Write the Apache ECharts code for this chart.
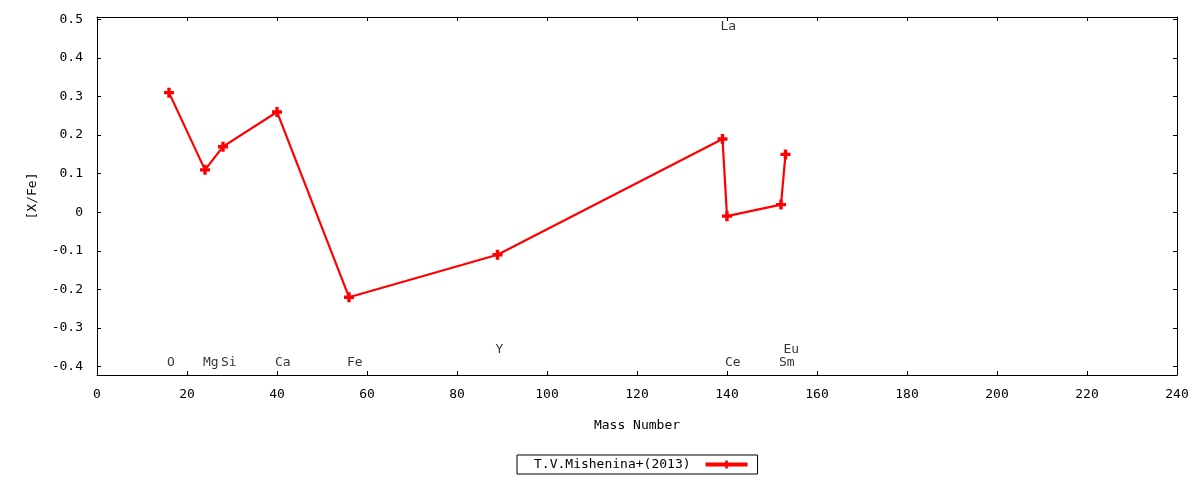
<!DOCTYPE html>
<html>
<head>
<meta charset="utf-8">
<script src="https://cdn.jsdelivr.net/npm/echarts@6/dist/echarts.min.js"></script>
<style>html,body{margin:0;padding:0;background:#fff;}#c{width:1200px;height:480px;}</style>
</head>
<body>
<div id="c"></div>
<script>
// Data
var elements = ['O', 'Mg', 'Si', 'Ca', 'Fe', 'Y', 'La', 'Ce', 'Sm', 'Eu'];
var massNumbers = [16, 24, 28, 40, 56, 89, 139, 140, 152, 153];
var xfeValues = [0.31, 0.11, 0.17, 0.26, -0.22, -0.11, 0.19, -0.01, 0.02, 0.15];
var labelY = [-0.39, -0.39, -0.39, -0.39, -0.39, -0.355, 0.48, -0.39, -0.39, -0.355];
var yTicks = [-0.4, -0.3, -0.2, -0.1, 0, 0.1, 0.2, 0.3, 0.4, 0.5];
var seriesName = 'T.V.Mishenina+(2013)';

var FONT = 'DejaVu Sans Mono';
var plus = 'path://M3.3,0H6.7V3.3H10V6.7H6.7V10H3.3V6.7H0V3.3H3.3Z';

var lineData = massNumbers.map(function (m, i) { return [m, xfeValues[i]]; });
var labelData = massNumbers.map(function (m, i) { return [m, labelY[i], elements[i]]; });

var chart = echarts.init(document.getElementById('c'));
var tickStyle = { show: true, inside: true, length: 4, lineStyle: { color: '#000', width: 1 } };
var lineAx = { show: true, onZero: false, lineStyle: { color: '#000', width: 1 } };
chart.setOption({
  animation: false,
  backgroundColor: '#fff',
  textStyle: { fontFamily: FONT },
  grid: { left: 97, right: 23, top: 17, bottom: 105, containLabel: false },
  xAxis: [{
    type: 'value', min: 0, max: 240, interval: 20, position: 'bottom',
    name: 'Mass Number', nameLocation: 'middle', nameGap: 44,
    nameTextStyle: { fontFamily: FONT, fontSize: 13, color: '#000' },
    axisLine: lineAx, axisTick: tickStyle, splitLine: { show: false },
    axisLabel: { fontFamily: FONT, fontSize: 13, color: '#000', margin: 13 }
  }, {
    type: 'value', min: 0, max: 240, interval: 20, position: 'top',
    axisLine: lineAx, axisTick: tickStyle, splitLine: { show: false },
    axisLabel: { show: false }
  }],
  yAxis: [{
    type: 'value', min: -0.4215, max: 0.506, position: 'left',
    name: '[X/Fe]', nameLocation: 'middle', nameGap: 58,
    nameTextStyle: { fontFamily: FONT, fontSize: 13, color: '#000' },
    axisLine: lineAx,
    axisTick: Object.assign({ customValues: yTicks }, tickStyle),
    splitLine: { show: false },
    axisLabel: { customValues: yTicks, fontFamily: FONT, fontSize: 13, color: '#000', margin: 14 }
  }, {
    type: 'value', min: -0.4215, max: 0.506, position: 'right',
    axisLine: lineAx,
    axisTick: Object.assign({ customValues: yTicks }, tickStyle),
    splitLine: { show: false },
    axisLabel: { show: false }
  }],
  legend: {
    left: 517, top: 455,
    data: [seriesName],
    align: 'right',
    borderColor: '#000', borderWidth: 1, borderRadius: 0,
    padding: [3, 8, 3, 17],
    itemWidth: 42, itemHeight: 10,
    textStyle: { fontFamily: FONT, fontSize: 13, color: '#000', padding: [0, 10, 0, 0] },
    lineStyle: { width: 4 }
  },
  series: [{
    name: seriesName,
    type: 'line',
    data: lineData,
    symbol: plus, symbolSize: 10,
    lineStyle: { color: '#ff0000', width: 2.2 },
    itemStyle: { color: '#ff0000' },
    xAxisIndex: 0, yAxisIndex: 0
  }, {
    type: 'scatter',
    data: labelData,
    symbolSize: 0,
    silent: true,
    label: {
      show: true, position: 'right', distance: -2,
      formatter: function (p) { return p.value[2]; },
      fontFamily: FONT, fontSize: 13, color: '#000'
    },
    xAxisIndex: 0, yAxisIndex: 0
  }]
});
</script>
</body>
</html>
